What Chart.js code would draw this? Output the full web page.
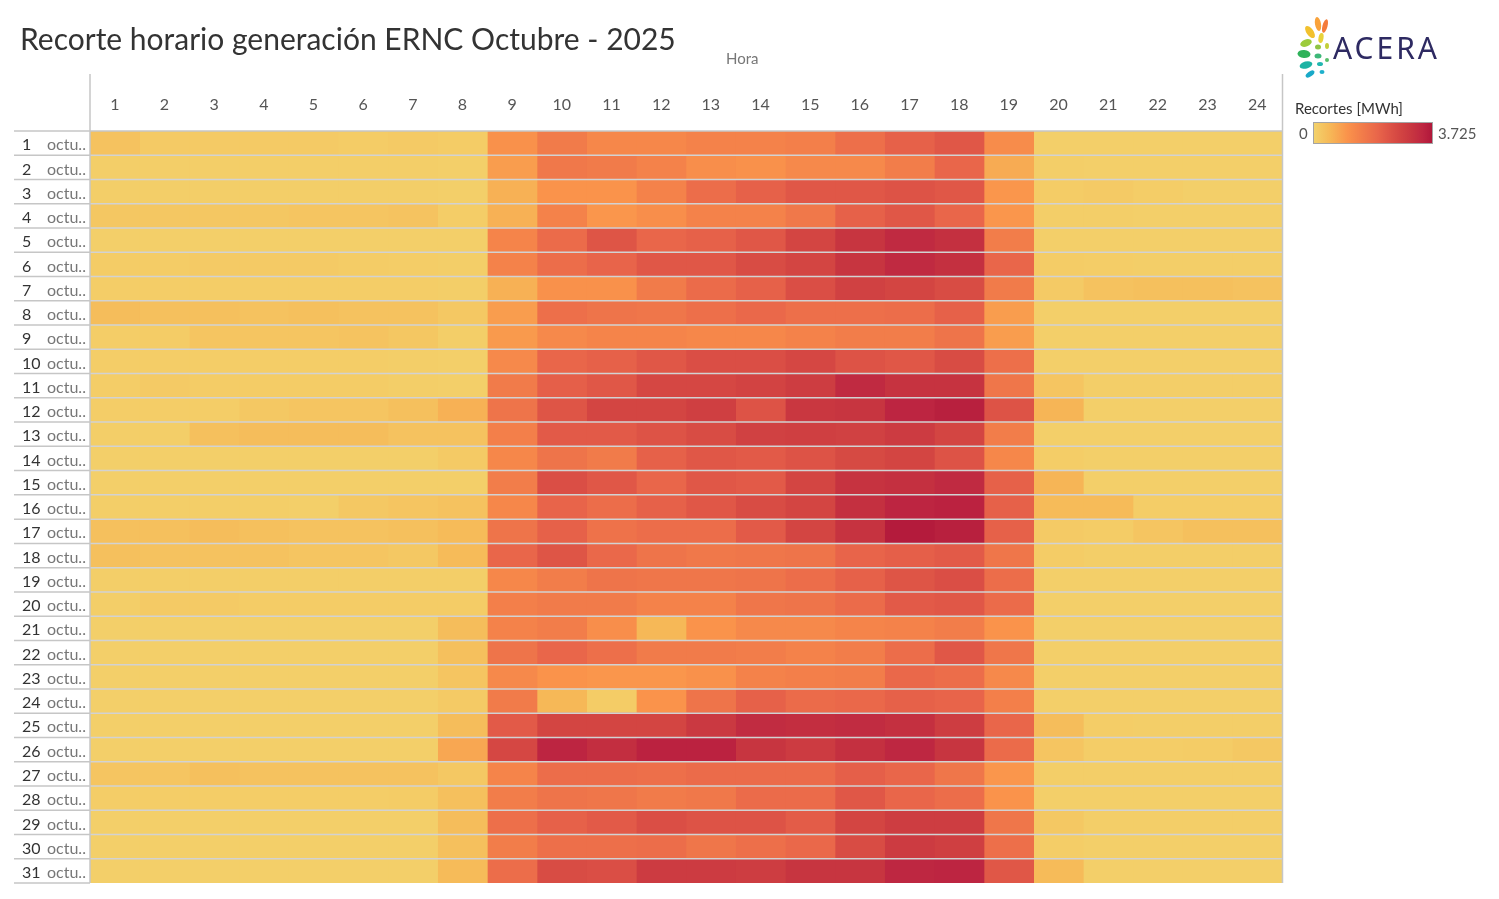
<!DOCTYPE html>
<html>
<head>
<meta charset="utf-8">
<script src="https://cdn.jsdelivr.net/npm/chart.js@4/dist/chart.umd.min.js"></script>
<style>
  body { margin: 0; background: #fff; font-family: Lato, "Noto Sans", sans-serif; }
  #wrap { position: relative; width: 1499px; height: 899px; overflow: hidden; }
  #heat { position: absolute; left: 0; top: 0; }
  .txt { position: absolute; white-space: nowrap; }
  #title { left: 20px; top: 20px; font-size: 30px; color: #333; }
  #hora { left: 726px; top: 49px; font-size: 15px; color: #777; }
  #legTitle { left: 1295px; top: 99px; font-size: 15px; color: #333; }
  #legMin { left: 1299px; top: 124px; font-size: 15px; color: #555; }
  #legMax { left: 1438px; top: 124px; font-size: 15px; color: #555; }
  #legBar { position: absolute; left: 1313px; top: 122px; width: 118px; height: 20px; border: 1px solid #a4a4a4; }
  #logoTxt { left: 1333px; top: 27px; font-size: 30px; color: #2e2a62; letter-spacing: 3px; font-family: "Noto Sans", sans-serif; }
  #logoSvg { position: absolute; left: 1296px; top: 16px; }
</style>
</head>
<body>
<div id="wrap">
  <canvas id="heat" width="1499" height="899"></canvas>
  <div class="txt" id="title">Recorte horario generación ERNC Octubre - 2025</div>
  <div class="txt" id="hora">Hora</div>
  <div class="txt" id="legTitle">Recortes [MWh]</div>
  <div class="txt" id="legMin">0</div>
  <div id="legBar"></div>
  <div class="txt" id="legMax">3.725</div>
  <svg id="logoSvg" width="42" height="66" viewBox="0 0 42 66">
    <ellipse cx="22" cy="8" rx="3" ry="7" fill="#f9a23a" transform="rotate(-10 22 8)"/>
    <ellipse cx="29" cy="10" rx="2.5" ry="7" fill="#f47b3b" transform="rotate(15 29 10)"/>
    <ellipse cx="14" cy="16" rx="3.5" ry="7" fill="#f2c12e" transform="rotate(-35 14 16)"/>
    <ellipse cx="25" cy="22" rx="2.5" ry="5" fill="#e8d23a" transform="rotate(10 25 22)"/>
    <ellipse cx="10" cy="27" rx="6" ry="3.5" fill="#9ccb3b" transform="rotate(-20 10 27)"/>
    <ellipse cx="22" cy="31" rx="3" ry="2.5" fill="#8fc444"/>
    <ellipse cx="8" cy="38" rx="6.5" ry="4" fill="#2fb25a" transform="rotate(5 8 38)"/>
    <ellipse cx="22" cy="40" rx="3.5" ry="2.5" fill="#3db878"/>
    <ellipse cx="10" cy="49" rx="6.5" ry="3.5" fill="#1cb3a4" transform="rotate(-15 10 49)"/>
    <ellipse cx="24" cy="48" rx="3" ry="2" fill="#22b7b0"/>
    <ellipse cx="14" cy="58" rx="5" ry="2.5" fill="#19a9c8" transform="rotate(-35 14 58)"/>
    <ellipse cx="26" cy="56" rx="2.5" ry="2" fill="#1db0cc"/>
    <ellipse cx="31" cy="44" rx="2" ry="2" fill="#58bf6a"/>
    <ellipse cx="31" cy="30" rx="2" ry="3" fill="#c3cf3a"/>
  </svg>
  <div class="txt" id="logoTxt">ACERA</div>
</div>
<script>
// Hours (columns) and days (rows)
const hours = ['1','2','3','4','5','6','7','8','9','10','11','12','13','14','15','16','17','18','19','20','21','22','23','24'];
const days = ['1','2','3','4','5','6','7','8','9','10','11','12','13','14','15','16','17','18','19','20','21','22','23','24','25','26','27','28','29','30','31'];
const dayText = 'octu..';

// Scale limits of the colour legend [MWh]
const scaleMin = 0;
const scaleMax = 3.725;

// Recortes [MWh], one row per day, 24 hours each
const recortes = [
  [0.30,0.15,0.15,0.15,0.15,0.12,0.15,0.12, 1.10,1.55,1.30,1.30,1.40,1.40,1.45,1.80,2.10,2.30,1.20, 0.05,0.05,0.05,0.05,0.05],
  [0.08,0.08,0.08,0.08,0.08,0.08,0.08,0.06, 0.90,1.60,1.55,1.40,1.15,1.10,1.25,1.25,1.50,2.00,0.70, 0.08,0.06,0.06,0.06,0.06],
  [0.08,0.08,0.08,0.08,0.08,0.08,0.08,0.06, 0.60,1.05,1.05,1.40,1.85,2.10,2.30,2.30,2.40,2.30,1.00, 0.12,0.15,0.10,0.06,0.06],
  [0.22,0.22,0.22,0.22,0.25,0.25,0.28,0.10, 0.60,1.40,1.00,1.15,1.40,1.40,1.60,2.10,2.30,2.00,1.00, 0.08,0.08,0.06,0.06,0.06],
  [0.06,0.06,0.06,0.06,0.06,0.06,0.06,0.06, 1.35,1.90,2.35,2.00,2.10,2.30,2.70,3.10,3.35,3.20,1.50, 0.06,0.06,0.06,0.06,0.06],
  [0.12,0.12,0.15,0.15,0.15,0.12,0.10,0.08, 1.40,1.85,2.05,2.30,2.30,2.55,2.70,3.10,3.35,3.20,2.00, 0.12,0.10,0.08,0.08,0.08],
  [0.10,0.10,0.10,0.10,0.10,0.10,0.10,0.08, 0.60,1.10,1.10,1.55,1.90,2.10,2.50,2.80,2.70,2.55,1.55, 0.15,0.30,0.35,0.35,0.30],
  [0.40,0.35,0.35,0.30,0.35,0.30,0.30,0.20, 0.90,1.80,1.70,1.65,1.80,1.95,1.80,1.80,1.85,2.10,0.90, 0.06,0.06,0.06,0.06,0.06],
  [0.10,0.12,0.25,0.25,0.25,0.28,0.22,0.08, 0.95,1.25,1.35,1.35,1.30,1.30,1.40,1.50,1.50,1.70,0.90, 0.06,0.06,0.06,0.06,0.06],
  [0.10,0.10,0.10,0.10,0.10,0.10,0.08,0.06, 1.25,2.00,2.10,2.30,2.50,2.50,2.65,2.40,2.30,2.55,1.80, 0.06,0.06,0.06,0.06,0.06],
  [0.10,0.15,0.12,0.12,0.12,0.12,0.08,0.06, 1.55,2.15,2.30,2.65,2.65,2.75,2.90,3.35,3.15,3.15,1.65, 0.25,0.08,0.08,0.08,0.08],
  [0.10,0.10,0.10,0.20,0.25,0.25,0.35,0.60, 1.70,2.35,2.70,2.70,2.85,2.40,3.05,3.10,3.45,3.55,2.40, 0.55,0.06,0.06,0.06,0.06],
  [0.08,0.08,0.35,0.40,0.40,0.40,0.30,0.30, 1.45,2.25,2.25,2.40,2.55,2.80,2.85,2.80,2.95,2.70,1.50, 0.06,0.06,0.06,0.06,0.06],
  [0.06,0.06,0.06,0.06,0.06,0.06,0.06,0.15, 1.30,1.70,1.55,2.10,2.30,2.25,2.40,2.60,2.70,2.40,1.30, 0.10,0.06,0.06,0.06,0.06],
  [0.06,0.06,0.06,0.06,0.06,0.06,0.06,0.06, 1.50,2.50,2.30,2.00,2.30,2.25,2.70,3.15,3.20,3.35,2.10, 0.55,0.06,0.06,0.06,0.06],
  [0.08,0.08,0.08,0.08,0.06,0.20,0.25,0.30, 1.30,2.05,1.85,2.10,2.30,2.55,2.70,3.20,3.45,3.50,2.10, 0.45,0.45,0.10,0.10,0.10],
  [0.35,0.35,0.40,0.35,0.30,0.30,0.35,0.45, 1.70,2.10,1.75,1.85,1.85,2.25,2.70,3.15,3.65,3.55,2.10, 0.15,0.12,0.25,0.35,0.35],
  [0.35,0.30,0.30,0.30,0.25,0.25,0.20,0.45, 2.00,2.35,1.95,1.70,1.60,1.65,1.70,2.05,2.15,2.25,1.65, 0.12,0.08,0.08,0.08,0.08],
  [0.08,0.08,0.08,0.08,0.08,0.08,0.08,0.08, 1.30,1.50,1.70,1.65,1.65,1.70,1.85,2.10,2.35,2.50,1.85, 0.06,0.06,0.06,0.06,0.06],
  [0.08,0.15,0.15,0.12,0.12,0.12,0.12,0.12, 1.45,1.55,1.55,1.40,1.40,1.65,1.70,1.90,2.25,2.30,1.90, 0.06,0.06,0.06,0.06,0.06],
  [0.06,0.06,0.06,0.06,0.06,0.06,0.06,0.40, 1.40,1.50,1.15,0.50,1.05,1.25,1.25,1.35,1.40,1.50,1.05, 0.06,0.06,0.06,0.06,0.06],
  [0.06,0.06,0.06,0.06,0.06,0.06,0.06,0.35, 1.70,2.00,1.80,1.55,1.55,1.50,1.40,1.50,1.85,2.30,1.65, 0.06,0.06,0.06,0.06,0.06],
  [0.06,0.06,0.06,0.06,0.06,0.06,0.06,0.25, 1.25,1.05,1.00,1.00,1.10,1.40,1.45,1.50,1.95,1.85,1.25, 0.06,0.06,0.06,0.06,0.06],
  [0.06,0.06,0.06,0.06,0.06,0.06,0.06,0.15, 1.55,0.50,0.12,1.05,1.70,2.10,1.90,1.95,2.10,2.05,1.45, 0.06,0.06,0.06,0.06,0.06],
  [0.06,0.06,0.06,0.06,0.06,0.06,0.06,0.40, 2.25,2.70,2.70,2.70,3.00,3.30,3.25,3.30,3.20,2.90,2.00, 0.40,0.10,0.08,0.08,0.08],
  [0.06,0.06,0.06,0.06,0.06,0.06,0.06,0.75, 2.65,3.45,3.25,3.50,3.50,3.10,2.95,3.20,3.40,3.10,1.90, 0.25,0.10,0.10,0.12,0.20],
  [0.25,0.25,0.35,0.30,0.30,0.30,0.30,0.20, 1.35,1.85,1.85,1.80,1.90,1.90,1.90,2.15,2.00,1.65,1.00, 0.08,0.08,0.08,0.08,0.08],
  [0.10,0.10,0.10,0.10,0.10,0.10,0.12,0.35, 1.50,1.70,1.65,1.55,1.60,1.90,1.90,2.30,2.00,1.85,1.05, 0.06,0.06,0.06,0.06,0.06],
  [0.06,0.06,0.06,0.06,0.06,0.06,0.06,0.40, 1.80,2.10,2.25,2.50,2.40,2.40,2.20,2.70,2.90,2.90,1.65, 0.20,0.08,0.08,0.08,0.08],
  [0.06,0.06,0.06,0.06,0.06,0.06,0.06,0.35, 1.50,1.80,1.80,1.85,1.65,1.80,1.95,2.55,2.95,2.85,1.80, 0.10,0.06,0.06,0.06,0.06],
  [0.06,0.06,0.06,0.06,0.06,0.06,0.06,0.45, 1.85,2.55,2.50,2.95,2.95,2.90,3.10,3.10,3.40,3.45,2.30, 0.45,0.06,0.06,0.06,0.06]
];

// Colour ramp (value in MWh -> colour)
const rampValues = [0, 0.5, 1.05, 1.5, 2.0, 2.3, 2.7, 3.1, 3.45, 3.725];
const rampColors = ['#f3d26b', '#f6b857', '#fa934b', '#f27d4a', '#e9664a', '#e05747', '#d34542', '#c73540', '#bd2541', '#b0173a'];

function hexToRgb(h) {
  return [parseInt(h.substr(1, 2), 16), parseInt(h.substr(3, 2), 16), parseInt(h.substr(5, 2), 16)];
}

function colorFor(v) {
  v = Math.max(scaleMin, Math.min(scaleMax, v));
  let i = 0;
  while (i < rampValues.length - 2 && v > rampValues[i + 1]) i++;
  const t = (v - rampValues[i]) / (rampValues[i + 1] - rampValues[i]);
  const a = hexToRgb(rampColors[i]), b = hexToRgb(rampColors[i + 1]);
  const c = a.map((x, k) => Math.round(x + (b[k] - x) * t));
  return 'rgb(' + c.join(',') + ')';
}

// Legend gradient
document.getElementById('legBar').style.background = 'linear-gradient(to right, ' +
  rampValues.map((v, i) => rampColors[i] + ' ' + (v / scaleMax * 100).toFixed(1) + '%').join(', ') + ')';

// One stacked segment per hour, coloured by that day's value
const datasets = hours.map(function (h, hi) {
  return {
    label: h,
    data: days.map(() => 1),
    backgroundColor: recortes.map(row => colorFor(row[hi])),
    borderWidth: 0,
    barPercentage: 1,
    categoryPercentage: 1
  };
});

/**
 * Row labels and separator lines
 */
const heatFrame = {
  id: 'heatFrame',
  afterDatasetsDraw(chart) {
    const ctx = chart.ctx;
    const area = chart.chartArea;
    const y = chart.scales.y;
    const rowH = (area.bottom - area.top) / days.length;

    ctx.save();

    // horizontal separators
    for (let i = 0; i <= days.length; i++) {
      const yy = area.top + i * rowH;
      ctx.lineWidth = 1.5;
      ctx.strokeStyle = '#c6c6c6';
      ctx.beginPath();
      ctx.moveTo(14, yy);
      ctx.lineTo(area.left, yy);
      ctx.stroke();
      if (i > 0 && i < days.length) {
        ctx.strokeStyle = '#d2d2d2';
        ctx.beginPath();
        ctx.moveTo(area.left, yy);
        ctx.lineTo(area.right, yy);
        ctx.stroke();
      }
    }
    ctx.strokeStyle = '#c6c6c6';
    ctx.beginPath();
    ctx.moveTo(area.left, area.top);
    ctx.lineTo(area.right, area.top);
    ctx.stroke();

    // vertical frame lines
    ctx.beginPath();
    ctx.moveTo(area.left, 74);
    ctx.lineTo(area.left, area.bottom);
    ctx.moveTo(area.right + 0.5, 74);
    ctx.lineTo(area.right + 0.5, area.bottom);
    ctx.stroke();

    // row labels
    ctx.textBaseline = 'middle';
    ctx.textAlign = 'left';
    days.forEach(function (d, i) {
      const yc = y.getPixelForValue(i);
      ctx.font = '16px Lato';
      ctx.fillStyle = '#333';
      ctx.fillText(d, 22, yc + 2);
      ctx.font = '16px Lato';
      ctx.fillStyle = '#777';
      ctx.fillText(dayText, 47, yc + 2);
    });

    ctx.restore();
  }
};

new Chart(document.getElementById('heat'), {
  type: 'bar',
  data: { labels: days, datasets: datasets },
  options: {
    indexAxis: 'y',
    responsive: false,
    animation: false,
    layout: { padding: { left: 90, right: 217, top: 74, bottom: 16 } },
    scales: {
      x: { type: 'linear', stacked: true, min: 0, max: 24, display: false },
      x2: {
        type: 'category',
        labels: hours,
        position: 'top',
        offset: true,
        grid: { display: false, drawTicks: false },
        border: { display: false },
        ticks: { color: '#555', font: { family: 'Lato', size: 16 }, padding: 17, maxRotation: 0, autoSkip: false },
        afterFit(scale) { scale.height = 57; }
      },
      y: { stacked: true, display: false }
    },
    plugins: {
      legend: { display: false },
      tooltip: { enabled: false }
    }
  },
  plugins: [heatFrame]
});
</script>
</body>
</html>
